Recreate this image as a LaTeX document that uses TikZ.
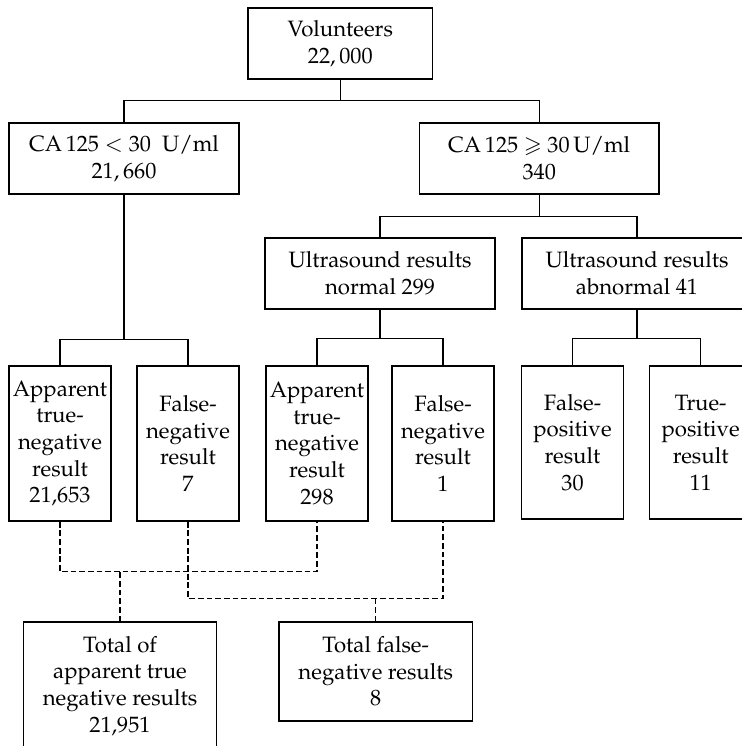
\documentclass[tikz,border=0pt]{standalone}
\usepackage[T1]{fontenc}
\usepackage{mathpazo}
\usepackage{amssymb}

\begin{document}
\begin{tikzpicture} [x=0.45pt, y=-0.45pt, line width=0.6pt,
			every node/.style={align=center,draw,rectangle,inner sep=0pt},
			root/.style={minimum width=83.1pt,minimum height=32pt},
			marker/.style={minimum width=103.5pt,minimum height=32pt},
			scan/.style={minimum width=103.5pt,minimum height=32pt},
			outcome/.style={minimum width=45.8pt,minimum height=69.8pt},
			total/.style={minimum width=87.1pt},
			sumline/.style={dash pattern=on 2.6pt off 1.3pt}
		]
			\useasboundingbox (0,0) rectangle (741,746);
			\node at (340.3,43.5) [root] (vol) {Volunteers\\$22,000$};
			\node at (124,158.5) [marker] (calow) {CA\,125 $<$ 30\ \ U/ml\\$21,660$};
			\node at (539.2,158.5) [marker,minimum width=107.9pt] (cahigh) {CA\,125 $\geqslant$ 30\,U/ml\\340};
			\node at (380,273.5) [scan] (usnorm) {Ultrasound results\\normal 299};
			\node at (637,273.5) [scan] (usabn) {Ultrasound results\\abnormal 41};
			\node at (60,443.5) [outcome] (atn1) {Apparent\\true-\\negative\\result\\21,653};
			\node at (188,443.5) [outcome] (fn1) {False-\\negative\\result\\7};
			\node at (317,443.5) [outcome] (atn2) {Apparent\\true-\\negative\\result\\298};
			\node at (443,443.5) [outcome] (fn2) {False-\\negative\\result\\1};
			\node at (572.5,442.5) [outcome,minimum height=68.9pt] (fp) {False-\\positive\\result\\30};
			\node at (700.7,442.5) [outcome,minimum height=68.9pt] (tp) {True-\\positive\\result\\11};
			\node at (120,686) [total,minimum height=57.6pt] (tot1) {Total of\\apparent true\\negative results\\21,951};
			\node at (375.7,671.5) [total,minimum height=44.6pt] (tot2) {Total false-\\negative results\\8};
			% tree
			\draw (vol.south) -- ++(0,21) -| (calow.north);
			\draw (vol.south) -- ++(0,21) -| (cahigh.north);
			\draw (calow.south) -- ++(0,145) -| (atn1.north);
			\draw (calow.south) -- ++(0,145) -| (fn1.north);
			\draw (cahigh.south) -- ++(0,22) -| (usnorm.north);
			\draw (cahigh.south) -- ++(0,22) -| (usabn.north);
			\draw (usnorm.south) -- ++(0,28.5) -| (atn2.north);
			\draw (usnorm.south) -- ++(0,28.5) -| (fn2.north);
			\draw (usabn.south) -- ++(0,28.5) -| (fp.north);
			\draw (usabn.south) -- ++(0,28.5) -| (tp.north);
			% totals
			\draw[sumline] (atn1.south) -- ++(0,50) -| (atn2.south);
			\draw[sumline] (fn1.south) -- ++(0,76.7) -| (fn2.south);
			\draw[sumline] (tot1.north) -- ++(0,-51);
			\draw[sumline] (tot2.north) -- ++(0,-24.3);
		\end{tikzpicture}
\end{document}
